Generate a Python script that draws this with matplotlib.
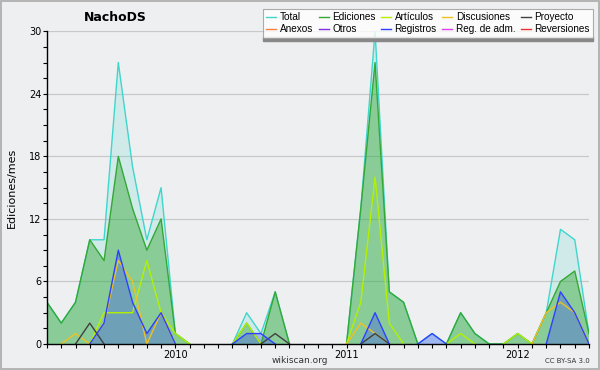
import numpy as np
import matplotlib
matplotlib.use("Agg")
import matplotlib.pyplot as plt
from matplotlib.patches import Rectangle

# months from 2009-04 to 2012-06
months = [f"{y}-{m:02d}" for y in (2009, 2010, 2011, 2012) for m in range(1, 13)]
months = months[3:42]
year_labels = ["2010", "2011", "2012"]

total = [4, 2, 4, 10, 10, 27, 17, 10, 15, 1, 0, 0, 0, 0, 3, 1, 5, 0, 0, 0,
         0, 0, 13, 30, 5, 4, 0, 1, 0, 3, 1, 0, 0, 1, 0, 3, 11, 10, 1]
ediciones = [4, 2, 4, 10, 8, 18, 13, 9, 12, 1, 0, 0, 0, 0, 2, 0, 5, 0, 0, 0,
             0, 0, 13, 27, 5, 4, 0, 0, 0, 3, 1, 0, 0, 1, 0, 3, 6, 7, 1]
articulos = [0, 0, 0, 0, 3, 3, 3, 8, 3, 1, 0, 0, 0, 0, 2, 0, 0, 0, 0, 0,
             0, 0, 4, 16, 2, 0, 0, 0, 0, 1, 0, 0, 0, 1, 0, 0, 0, 0, 0]
discusiones = [0, 0, 1, 0, 2, 8, 6, 0, 3, 0, 0, 0, 0, 0, 0, 0, 0, 0, 0, 0,
               0, 0, 2, 1, 0, 0, 0, 0, 0, 0, 0, 0, 0, 0, 0, 3, 4, 3, 0]
proyecto = [0, 0, 0, 2, 0, 0, 0, 0, 0, 0, 0, 0, 0, 0, 0, 0, 1, 0, 0, 0,
            0, 0, 0, 1, 0, 0, 0, 0, 0, 0, 0, 0, 0, 0, 0, 0, 0, 0, 0]
registros = [0, 0, 0, 0, 2, 9, 4, 1, 3, 0, 0, 0, 0, 0, 1, 1, 0, 0, 0, 0,
             0, 0, 0, 3, 0, 0, 0, 1, 0, 0, 0, 0, 0, 0, 0, 0, 5, 3, 0]
anexos = [0] * 39
otros = [0] * 39
reg_adm = [0] * 39
reversiones = [0] * 39


def visible(vals):
    # hide zero runs so only segments touching a non-zero value get drawn
    v = np.array(vals, dtype=float)
    out = v.copy()
    for i in range(len(v)):
        left = v[i - 1] if i > 0 else 0
        right = v[i + 1] if i < len(v) - 1 else 0
        if v[i] == 0 and left == 0 and right == 0:
            out[i] = np.nan
    return out


bg = "#eeeff1"
plt.rcParams["font.family"] = ["DejaVu Sans"]
fig = plt.figure(figsize=(6, 3.7), dpi=100, facecolor=bg)
ax = fig.add_axes([0.0783, 0.0703, 0.9034, 0.8451], facecolor=bg)
x = np.arange(len(months))

series = [
    ("Total", total, "#3fd6cc", 0.17),
    ("Ediciones", ediciones, "#34a834", 0.45),
    ("Artículos", articulos, "#b4f000", 0.0),
    ("Discusiones", discusiones, "#f0c020", 0.0),
    ("Proyecto", proyecto, "#404040", 0.0),
    ("Anexos", anexos, "#ff7f40", 0.0),
    ("Otros", otros, "#8030e0", 0.0),
    ("Reg. de adm.", reg_adm, "#e040f0", 0.0),
    ("Reversiones", reversiones, "#f03030", 0.0),
    ("Registros", registros, "#3040ff", 0.3),
]

handles = {}
for name, vals, col, a in series:
    y = visible(vals)
    if a > 0:
        ax.fill_between(x, 0, y, color=col, alpha=a, lw=0)
    ln, = ax.plot(x, y, color=col, lw=1.0, label=name)
    handles[name] = ln

ax.set_xlim(0, len(months) - 1)
ax.set_ylim(0, 30)
ax.set_yticks(np.arange(0, 31, 6))
ax.set_yticks(np.arange(0, 30.1, 1.5), minor=True)
ax.yaxis.grid(True, color="#c8c8c8", lw=0.9)
ax.set_axisbelow(True)
ax.set_xticks(x, minor=True)
jan = [i for i, m in enumerate(months) if m.endswith("-01")]
ax.set_xticks(jan)
ax.set_xticklabels(year_labels)
ax.tick_params(axis="both", which="both", length=3, width=0.8, labelsize=7, pad=1)
for s in ("top", "right"):
    ax.spines[s].set_visible(False)
ax.spines["left"].set_linewidth(1.0)
ax.spines["bottom"].set_linewidth(1.0)
ax.set_ylabel("Ediciones/mes", fontsize=8, labelpad=9)

fig.text(0.192, 0.953, "NachoDS", fontsize=9, fontweight="bold", ha="center", va="center")
fig.text(0.5, 0.025, "wikiscan.org", fontsize=6.5, ha="center", va="center", color="#333333")
fig.text(0.983, 0.025, "CC BY-SA 3.0", fontsize=5, ha="right", va="center", color="#333333")

order = ["Total", "Anexos", "Ediciones", "Otros", "Artículos", "Registros",
         "Discusiones", "Reg. de adm.", "Proyecto", "Reversiones"]
leg = fig.legend([handles[n] for n in order], order, ncol=5, loc="upper right",
                 bbox_to_anchor=(0.997, 0.99), frameon=True,
                 prop={"family": "Liberation Sans", "size": 7.2},
                 fancybox=False, handlelength=1.0, handletextpad=0.35,
                 columnspacing=0.55, labelspacing=0.2, borderpad=0.35)
leg.get_frame().set_edgecolor("#999999")
leg.get_frame().set_linewidth(0.8)
leg.set_zorder(5)

fig.canvas.draw()
bb = leg.get_window_extent().transformed(fig.transFigure.inverted())
fig.add_artist(Rectangle((bb.x0, bb.y0 - 0.008), bb.width, 0.009,
                         transform=fig.transFigure, color="#888888", zorder=4))
fig.add_artist(Rectangle((0.002, 0.003), 0.996, 0.994, transform=fig.transFigure,
                         fill=False, edgecolor="#aaaaaa", lw=1.2))

fig.savefig("out.png", dpi=100, facecolor=bg)
